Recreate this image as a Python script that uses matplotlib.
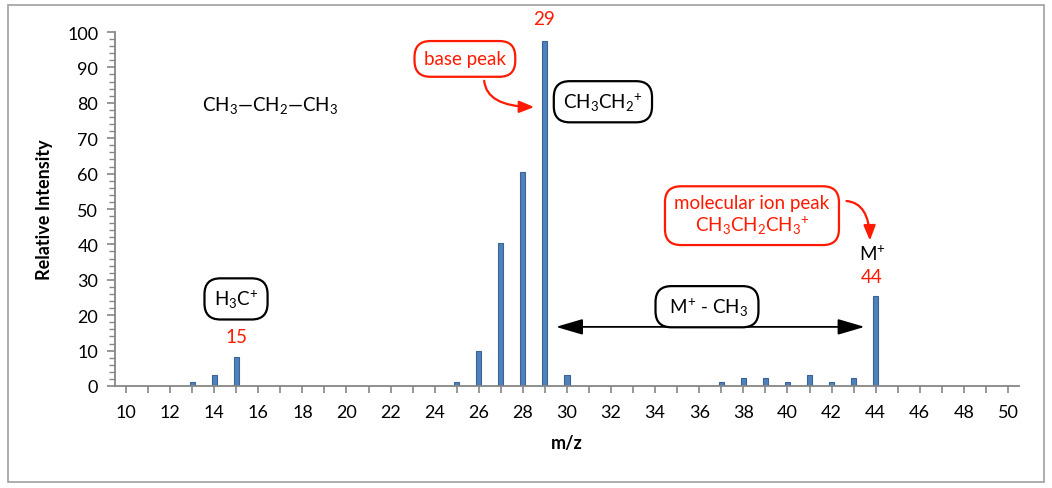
import matplotlib
matplotlib.use('Agg')
import matplotlib.pyplot as plt
from matplotlib.patches import FancyArrowPatch, Rectangle

plt.rcParams['font.family'] = ['Lato', 'DejaVu Sans']
plt.rcParams['mathtext.fontset'] = 'custom'
plt.rcParams['mathtext.rm'] = 'Lato'
plt.rcParams['mathtext.it'] = 'Lato:italic'
plt.rcParams['mathtext.bf'] = 'Lato:bold'

# mass spectrum of propane
mz = [13, 14, 15, 25, 26, 27, 28, 29, 30, 37, 38, 39, 40, 41, 42, 43, 44]
intensity = [1.0, 3.2, 8.3, 1.0, 10.0, 40.4, 60.4, 97.5, 3.2,
             1.0, 2.2, 2.2, 1.0, 3.2, 1.0, 2.2, 25.3]

x_ticks = list(range(10, 51, 2))
y_ticks = list(range(0, 101, 10))

red = '#ff1a00'
grey = '#868686'
fs = 13.5

fig = plt.figure(figsize=(10.52, 4.89), dpi=100)
ax = fig.add_axes([0.1093, 0.2086, 0.8593, 0.7239])

ax.bar(mz, intensity, width=0.23, color='#4f81bd', edgecolor='#3a6496', linewidth=0.8)

ax.set_xlim(9.5, 50.5)
ax.set_ylim(0, 100)
ax.set_xticks(x_ticks)
ax.set_xticks(range(10, 51), minor=True)
ax.set_yticks(y_ticks)
ax.set_yticks(range(0, 101, 2), minor=True)

for s in ['top', 'right']:
    ax.spines[s].set_visible(False)
for s in ['left', 'bottom']:
    ax.spines[s].set_color(grey)
    ax.spines[s].set_linewidth(1.3)

ax.tick_params(axis='x', which='both', length=5, color=grey, width=1.2, labelsize=13, pad=8)
ax.tick_params(axis='y', which='major', length=6, color=grey, width=1.2, labelsize=13, pad=6)
ax.tick_params(axis='y', which='minor', length=4, color=grey, width=1.0)

ax.set_xlabel('m/z', fontsize=13, fontweight='bold', labelpad=10)
ax.set_ylabel('Relative Intensity', fontsize=13, fontweight='bold', labelpad=10)

box_black = dict(boxstyle='round,pad=0.5,rounding_size=0.85', fc='white', ec='black', lw=1.6)
box_red = dict(boxstyle='round,pad=0.5,rounding_size=0.85', fc='white', ec=red, lw=1.6)

# peak labels
ax.text(28.96, 103.7, '29', color=red, fontsize=fs, ha='center', va='center', clip_on=False)
ax.text(14.99, 13.9, '15', color=red, fontsize=fs, ha='center', va='center')
ax.text(43.83, 30.9, '44', color=red, fontsize=fs, ha='center', va='center')
ax.text(43.83, 37.4, 'M$^{+}$', color='black', fontsize=fs, ha='center', va='center')

# structure
ax.text(16.53, 79.4, 'CH$_3$\u2014CH$_2$\u2014CH$_3$', fontsize=fs, ha='center', va='center')

# fragment boxes
ax.text(31.63, 80.3, 'CH$_3$CH$_2$$^{+}$', fontsize=fs, ha='center', va='center', bbox=box_black)
ax.text(14.99, 24.6, 'H$_3$C$^{+}$', fontsize=fs, ha='center', va='center', bbox=box_black)
ax.text(36.35, 22.4, ' M$^{+}$ - CH$_3$ ', fontsize=fs, ha='center', va='center', bbox=box_black)

# red callouts
ax.text(25.37, 92.4, 'base peak', color=red, fontsize=fs, ha='center', va='center', bbox=box_red)
ax.text(38.39, 48.4, 'molecular ion peak\nCH$_3$CH$_2$CH$_3$$^{+}$', color=red, fontsize=fs,
        ha='center', va='center', linespacing=1.15, bbox=box_red)

ax.add_patch(FancyArrowPatch((26.24, 87.0), (28.64, 78.8),
                             connectionstyle='angle3,angleA=90,angleB=0',
                             arrowstyle='-|>,head_length=0.45,head_width=0.18',
                             mutation_scale=20, color=red, lw=1.6))
ax.add_patch(FancyArrowPatch((42.55, 52.3), (43.74, 40.3),
                             connectionstyle='angle3,angleA=0,angleB=90',
                             arrowstyle='-|>,head_length=0.45,head_width=0.18',
                             mutation_scale=20, color=red, lw=1.6))

# double arrow for loss of CH3
ax.add_patch(FancyArrowPatch((29.5, 16.7), (43.5, 16.7),
                             arrowstyle='<|-|>,head_length=0.75,head_width=0.22',
                             mutation_scale=22, color='black', lw=1.3,
                             shrinkA=0, shrinkB=0))

fig.patches.append(Rectangle((0.008, 0.012), 0.984, 0.976, transform=fig.transFigure,
                             fill=False, ec='#a0a0a0', lw=1.2))

fig.savefig('out.png', dpi=100)
